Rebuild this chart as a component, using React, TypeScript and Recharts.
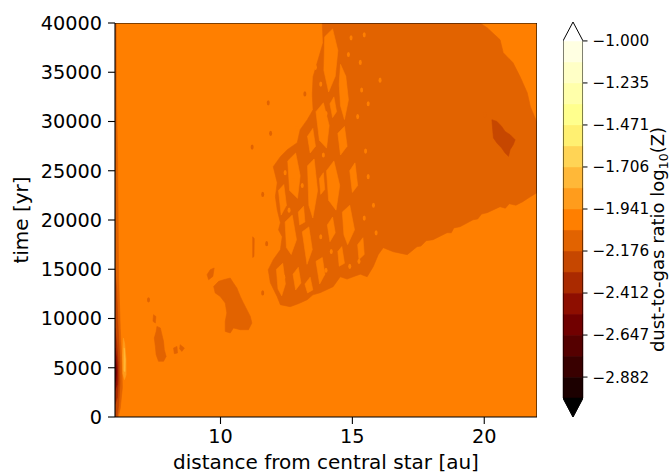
import React from 'react';
import { ScatterChart, Scatter, XAxis, YAxis, ReferenceArea } from 'recharts';

const FONT = '"DejaVu Sans", sans-serif';
const ORANGE = '#FF7F00';
const DARK = '#E26300';
const DARKER = '#C64700';

// axes
const xTicks = [10, 15, 20];
const yTicks = [0, 5000, 10000, 15000, 20000, 25000, 30000, 35000, 40000];

// contour levels of log10(Z) (bottom to top) and the band colours between them
const levels = [
  -3.0, -2.8824, -2.7647, -2.6471, -2.5294, -2.4118, -2.2941, -2.1765, -2.0588,
  -1.9412, -1.8235, -1.7059, -1.5882, -1.4706, -1.3529, -1.2353, -1.1176, -1.0,
];
const bandColors = [
  '#1C0000', '#390000', '#550000', '#710000', '#8E0E00', '#AA2A00', '#C64700', '#E26300',
  '#FF7F00', '#FF9C1C', '#FFB838', '#FFD455', '#FFF071', '#FFFF8D', '#FFFFAA', '#FFFFC6', '#FFFFE2',
];
const cbarTicks = [-2.8824, -2.6471, -2.4118, -2.1765, -1.9412, -1.7059, -1.4706, -1.2353, -1.0];

// whole field sits in the -2.059 .. -1.941 band
const field = [
  { x: 6, y: 0 }, { x: 6, y: 40000 }, { x: 22, y: 40000 }, { x: 22, y: 0 },
];

// thin darker column at the inner edge
const edgeStrip = [
  { x: 6, y: 40000 }, { x: 6.05, y: 40000 }, { x: 6.06, y: 32000 }, { x: 6.1, y: 26000 },
  { x: 6.12, y: 20000 }, { x: 6.14, y: 14000 }, { x: 6.2, y: 9000 }, { x: 6.26, y: 5500 },
  { x: 6.28, y: 3000 }, { x: 6.2, y: 900 }, { x: 6.12, y: 0 }, { x: 6, y: 0 },
];
const edgeInner = [
  { x: 6, y: 15000 }, { x: 6.06, y: 13000 }, { x: 6.12, y: 9000 }, { x: 6.18, y: 6000 },
  { x: 6.19, y: 3500 }, { x: 6.14, y: 1200 }, { x: 6.08, y: 0 }, { x: 6, y: 0 },
];
const edgeCoreOuter = [
  { x: 6, y: 9000 }, { x: 6.07, y: 7300 }, { x: 6.12, y: 5500 }, { x: 6.13, y: 3800 },
  { x: 6.09, y: 2000 }, { x: 6, y: 1300 },
];
const edgeCore = [
  { x: 6, y: 7000 }, { x: 6.06, y: 6000 }, { x: 6.09, y: 4800 }, { x: 6.08, y: 3300 }, { x: 6, y: 2700 },
];
const edgeCoreDeep = [
  { x: 6, y: 5900 }, { x: 6.04, y: 5200 }, { x: 6.06, y: 4500 }, { x: 6.03, y: 3700 }, { x: 6, y: 3500 },
];
const paleStreak = [
  { x: 6.32, y: 8000 }, { x: 6.37, y: 7400 }, { x: 6.42, y: 5800 }, { x: 6.42, y: 4300 },
  { x: 6.36, y: 3800 }, { x: 6.3, y: 4400 }, { x: 6.29, y: 6300 },
];
const paleCore = [
  { x: 6.35, y: 7000 }, { x: 6.39, y: 5800 }, { x: 6.38, y: 4600 }, { x: 6.34, y: 4700 },
];

// big dust-rich region in the outer disc (outline incl. the patchy inner part)
const mainRegion = [
  { x: 13.86, y: 40000 }, { x: 19.84, y: 40000 }, { x: 20.11, y: 39520 }, { x: 20.6, y: 38300 },
  { x: 20.72, y: 36980 }, { x: 21.09, y: 35970 }, { x: 21.36, y: 34550 }, { x: 21.63, y: 32920 },
  { x: 21.75, y: 31500 }, { x: 22, y: 29880 }, { x: 22, y: 22770 }, { x: 21.75, y: 22370 },
  { x: 21.46, y: 21860 }, { x: 21.2, y: 21500 }, { x: 20.95, y: 21650 }, { x: 20.8, y: 21200 },
  { x: 20.6, y: 21350 }, { x: 20.11, y: 20740 }, { x: 19.9, y: 20600 }, { x: 19.75, y: 20100 },
  { x: 19.58, y: 20030 }, { x: 19.08, y: 19320 }, { x: 18.85, y: 19200 }, { x: 18.75, y: 18700 },
  { x: 18.59, y: 18710 }, { x: 18.06, y: 18000 }, { x: 17.8, y: 17900 }, { x: 17.6, y: 17350 },
  { x: 17.45, y: 17290 }, { x: 17.08, y: 16480 }, { x: 16.55, y: 16780 }, { x: 16.17, y: 17190 },
  { x: 15.98, y: 16480 }, { x: 15.79, y: 15260 }, { x: 15.56, y: 14240 }, { x: 15.3, y: 14500 },
  { x: 15.03, y: 14240 }, { x: 14.8, y: 14000 }, { x: 14.54, y: 14240 }, { x: 14.27, y: 13230 },
  { x: 13.78, y: 12620 }, { x: 13.5, y: 12400 }, { x: 13.29, y: 11910 }, { x: 12.95, y: 11500 },
  { x: 12.64, y: 11200 }, { x: 12.27, y: 11400 }, { x: 12.15, y: 12210 }, { x: 11.89, y: 13630 },
  { x: 11.81, y: 14950 }, { x: 12.0, y: 15970 }, { x: 12.27, y: 16980 }, { x: 12.34, y: 18300 },
  { x: 12.2, y: 19000 }, { x: 12.27, y: 19730 }, { x: 12.15, y: 21050 }, { x: 12.08, y: 22370 },
  { x: 12.15, y: 23790 }, { x: 12.0, y: 25410 }, { x: 12.27, y: 26430 }, { x: 12.53, y: 27140 },
  { x: 12.91, y: 27850 }, { x: 13.02, y: 29170 }, { x: 13.29, y: 30180 }, { x: 13.51, y: 31200 },
  { x: 13.48, y: 32720 }, { x: 13.51, y: 34550 }, { x: 13.7, y: 36270 }, { x: 13.89, y: 38000 },
];

// gaps in the patchy part
const holes = [
  [{ x: 13.95, y: 38600 }, { x: 14.25, y: 39400 }, { x: 14.45, y: 37200 }, { x: 14.35, y: 34600 }, { x: 14.1, y: 33000 }, { x: 13.92, y: 35200 }],
  [{ x: 14.55, y: 35800 }, { x: 14.75, y: 34600 }, { x: 14.85, y: 32200 }, { x: 14.7, y: 30200 }, { x: 14.55, y: 31600 }, { x: 14.5, y: 33800 }],
  [{ x: 13.62, y: 31000 }, { x: 13.9, y: 31900 }, { x: 14.12, y: 29600 }, { x: 14.02, y: 27300 }, { x: 13.75, y: 28100 }],
  [{ x: 12.55, y: 26000 }, { x: 12.85, y: 26800 }, { x: 13.02, y: 24500 }, { x: 12.92, y: 22200 }, { x: 12.62, y: 23000 }],
  [{ x: 13.3, y: 25500 }, { x: 13.55, y: 26200 }, { x: 13.68, y: 23000 }, { x: 13.5, y: 20200 }, { x: 13.35, y: 21500 }],
  [{ x: 14.02, y: 25000 }, { x: 14.3, y: 26000 }, { x: 14.52, y: 23500 }, { x: 14.38, y: 21000 }, { x: 14.1, y: 22000 }],
  [{ x: 12.45, y: 19800 }, { x: 12.72, y: 20500 }, { x: 12.88, y: 18000 }, { x: 12.68, y: 16500 }, { x: 12.5, y: 17200 }],
  [{ x: 13.1, y: 18800 }, { x: 13.35, y: 19300 }, { x: 13.48, y: 17000 }, { x: 13.28, y: 15500 }],
  [{ x: 14.62, y: 20800 }, { x: 14.9, y: 21500 }, { x: 15.08, y: 19000 }, { x: 14.82, y: 17500 }, { x: 14.68, y: 18500 }],
  [{ x: 12.12, y: 15000 }, { x: 12.36, y: 15600 }, { x: 12.46, y: 13500 }, { x: 12.32, y: 12300 }, { x: 12.18, y: 13000 }],
  [{ x: 13.62, y: 15800 }, { x: 13.86, y: 16200 }, { x: 13.96, y: 14500 }, { x: 13.76, y: 13500 }],
  [{ x: 14.05, y: 19500 }, { x: 14.25, y: 20300 }, { x: 14.35, y: 18700 }, { x: 14.15, y: 17800 }],
  [{ x: 12.75, y: 14500 }, { x: 12.95, y: 15200 }, { x: 13.05, y: 13600 }, { x: 12.85, y: 12900 }],
  [{ x: 14.45, y: 28800 }, { x: 14.7, y: 29500 }, { x: 14.8, y: 27500 }, { x: 14.55, y: 26600 }],
  [{ x: 13.3, y: 28500 }, { x: 13.5, y: 29300 }, { x: 13.6, y: 27500 }, { x: 13.4, y: 26800 }],
  [{ x: 12.2, y: 23000 }, { x: 12.4, y: 23600 }, { x: 12.5, y: 21500 }, { x: 12.3, y: 20500 }],
  [{ x: 12.95, y: 20800 }, { x: 13.15, y: 21400 }, { x: 13.2, y: 19800 }, { x: 13.0, y: 19500 }],
  [{ x: 14.9, y: 25000 }, { x: 15.1, y: 25800 }, { x: 15.2, y: 23500 }, { x: 15.0, y: 22800 }],
  [{ x: 13.2, y: 13500 }, { x: 13.4, y: 14200 }, { x: 13.5, y: 12900 }, { x: 13.3, y: 12600 }],
  [{ x: 14.45, y: 16800 }, { x: 14.6, y: 17300 }, { x: 14.7, y: 15600 }, { x: 14.5, y: 15300 }],
  [{ x: 15.2, y: 17500 }, { x: 15.4, y: 18200 }, { x: 15.45, y: 16500 }, { x: 15.25, y: 16000 }],
  [{ x: 13.75, y: 24200 }, { x: 13.9, y: 24800 }, { x: 13.95, y: 23100 }, { x: 13.8, y: 22600 }],
  [{ x: 14.15, y: 31800 }, { x: 14.3, y: 32500 }, { x: 14.4, y: 31000 }, { x: 14.25, y: 30400 }],
];

// darkest spot near 21 au
const hotSpot = [
  { x: 20.29, y: 30180 }, { x: 20.48, y: 30010 }, { x: 20.66, y: 29500 }, { x: 20.79, y: 28990 },
  { x: 20.98, y: 28660 }, { x: 21.17, y: 28150 }, { x: 21.1, y: 27640 }, { x: 20.98, y: 27140 },
  { x: 20.92, y: 26460 }, { x: 20.79, y: 26800 }, { x: 20.66, y: 27310 }, { x: 20.48, y: 27820 },
  { x: 20.35, y: 28320 }, { x: 20.32, y: 29170 },
];

// islands further in
const islandB = [
  { x: 10.12, y: 13940 }, { x: 10.37, y: 14110 }, { x: 10.49, y: 13600 }, { x: 10.62, y: 13100 },
  { x: 10.75, y: 12240 }, { x: 10.87, y: 11570 }, { x: 11.0, y: 10890 }, { x: 11.13, y: 10210 },
  { x: 11.19, y: 9540 }, { x: 11.06, y: 8860 }, { x: 10.75, y: 8860 }, { x: 10.49, y: 9040 },
  { x: 10.37, y: 8530 }, { x: 10.18, y: 8690 }, { x: 10.18, y: 9710 }, { x: 10.24, y: 10560 },
  { x: 10.18, y: 11570 }, { x: 9.99, y: 12240 }, { x: 9.8, y: 12590 }, { x: 9.74, y: 13260 },
  { x: 9.93, y: 13770 },
];
const islandBPatch = [
  { x: 9.61, y: 14950 }, { x: 9.76, y: 15130 }, { x: 9.71, y: 14270 }, { x: 9.55, y: 13940 }, { x: 9.49, y: 14450 },
];
const islandC = [
  { x: 7.59, y: 9200 }, { x: 7.72, y: 9040 }, { x: 7.78, y: 8360 }, { x: 7.84, y: 7680 },
  { x: 7.87, y: 6830 }, { x: 7.94, y: 6150 }, { x: 7.84, y: 5650 }, { x: 7.65, y: 5650 },
  { x: 7.56, y: 6330 }, { x: 7.53, y: 7170 }, { x: 7.49, y: 8020 }, { x: 7.56, y: 8690 },
];
const islandCBits = [
  [{ x: 8.22, y: 7000 }, { x: 8.35, y: 7170 }, { x: 8.37, y: 6500 }, { x: 8.25, y: 6430 }],
  [{ x: 8.47, y: 7340 }, { x: 8.63, y: 7000 }, { x: 8.54, y: 6660 }, { x: 8.45, y: 6900 }],
  [{ x: 7.46, y: 10390 }, { x: 7.55, y: 10210 }, { x: 7.53, y: 9540 }, { x: 7.44, y: 9710 }],
  [{ x: 11.22, y: 18300 }, { x: 11.28, y: 18100 }, { x: 11.27, y: 16300 }, { x: 11.22, y: 16200 }],
];

// small specks
const lightSpecks = [
  { x: 15.2, y: 30500 }, { x: 15.3, y: 36000 }, { x: 14.95, y: 38500 }, { x: 15.35, y: 33200 },
  { x: 15.5, y: 27000 }, { x: 15.6, y: 24400 }, { x: 15.8, y: 21500 }, { x: 12.6, y: 21000 },
  { x: 13.8, y: 18300 }, { x: 15.25, y: 15800 }, { x: 14.9, y: 15300 }, { x: 12.9, y: 29300 },
  { x: 13.8, y: 33800 }, { x: 13.1, y: 23500 }, { x: 14.0, y: 30800 }, { x: 12.45, y: 24800 },
  { x: 15.9, y: 18700 }, { x: 16.05, y: 34200 }, { x: 15.45, y: 38800 }, { x: 14.2, y: 16800 },
  { x: 13.6, y: 35500 }, { x: 14.85, y: 36800 }, { x: 15.6, y: 31800 }, { x: 15.45, y: 20200 },
  { x: 12.75, y: 24000 }, { x: 13.9, y: 26600 }, { x: 12.4, y: 14200 }, { x: 14.0, y: 14900 },
];
const darkSpecks = [
  { x: 11.81, y: 31900 }, { x: 11.2, y: 27400 }, { x: 7.27, y: 11900 }, { x: 10.25, y: 11900 },
  { x: 11.6, y: 22600 }, { x: 11.9, y: 28800 }, { x: 20.03, y: 30700 }, { x: 11.75, y: 17600 },
  { x: 11.6, y: 12600 }, { x: 13.2, y: 32800 },
];

// colourbar end caps in (0..1, level) space
const capTop = [{ x: 0, y: -1.0 }, { x: 0.5, y: -0.894 }, { x: 1, y: -1.0 }];
const capBottom = [{ x: 0, y: -3.0 }, { x: 0.5, y: -3.106 }, { x: 1, y: -3.0 }];
const cbarOutline = [
  { x: 0, y: -3.0 }, { x: 0, y: -1.0 }, { x: 0.5, y: -0.894 }, { x: 1, y: -1.0 },
  { x: 1, y: -3.0 }, { x: 0.5, y: -3.106 },
];

const noPoint = () => <g />;

const polygonLine = (fill: string, stroke = fill, strokeWidth = 0.6) => (props: any) => (
  <polygon
    points={(props.points || []).map((p: any) => `${p.x},${p.y}`).join(' ')}
    fill={fill}
    stroke={stroke}
    strokeWidth={strokeWidth}
  />
);

const region = (key: string, data: { x: number; y: number }[], color: string) => (
  <Scatter
    key={key}
    data={data}
    line={polygonLine(color)}
    lineType="joint"
    shape={noPoint}
    isAnimationActive={false}
  />
);

const speck = (color: string) => (p: any) => (
  <ellipse cx={p.cx} cy={p.cy} rx={1.5} ry={2.6} fill={color} />
);

const fmtLevel = (v: number) => (v < 0 ? '\u2212' : '') + Math.abs(v).toFixed(3);

const CbarLabel = (props: any) => {
  const vb = props.viewBox || { x: 583, y: 22, width: 88, height: 395 };
  const bx = vb.x + vb.width - 7;
  const cy = vb.y + vb.height / 2 + 20;
  return (
    <text
      transform={`translate(${bx},${cy}) rotate(-90)`}
      textAnchor="middle"
      fontFamily={FONT}
      fontSize={18}
      fill="#000"
    >
      dust-to-gas ratio log
      <tspan fontSize={12.5} dy={4}>10</tspan>
      <tspan dy={-4}>(Z)</tspan>
    </text>
  );
};

export default function App() {
  const tickStyle = { fontFamily: FONT, fontSize: 19.3, fill: '#000' };
  return (
    <div style={{ position: 'absolute', left: 0, top: 0, width: 671, height: 474, background: '#fff' }}>
      <div style={{ position: 'absolute', left: 0, top: 0 }}>
        <ScatterChart width={671} height={474} margin={{ top: 23, right: 134, bottom: 0, left: 0 }}>
          <XAxis
            type="number"
            dataKey="x"
            domain={[6, 22]}
            ticks={xTicks}
            allowDataOverflow
            height={57}
            tick={tickStyle}
            tickSize={7}
            tickMargin={5}
            stroke="#000"
            axisLine={{ stroke: '#000', strokeWidth: 1.1 }}
            tickLine={{ stroke: '#000', strokeWidth: 1.1 }}
            label={{
              value: 'distance from central star [au]',
              position: 'insideBottom',
              offset: 5,
              style: { fontFamily: FONT, fontSize: 20, fill: '#000' },
            }}
          />
          <YAxis
            type="number"
            dataKey="y"
            domain={[0, 40000]}
            ticks={yTicks}
            allowDataOverflow
            width={115}
            tick={tickStyle}
            tickSize={7}
            tickMargin={6}
            stroke="#000"
            axisLine={{ stroke: '#000', strokeWidth: 1.1 }}
            tickLine={{ stroke: '#000', strokeWidth: 1.1 }}
            label={{
              value: 'time [yr]',
              angle: -90,
              position: 'insideLeft',
              offset: 21,
              style: { fontFamily: FONT, fontSize: 20, fill: '#000', textAnchor: 'middle' },
            }}
          />
          {region('field', field, ORANGE)}
          {region('edgeStrip', edgeStrip, DARK)}
          {region('edgeInner', edgeInner, DARKER)}
          {region('edgeCoreOuter', edgeCoreOuter, '#AA2A00')}
          {region('edgeCore', edgeCore, '#8E0E00')}
          {region('edgeCoreDeep', edgeCoreDeep, '#710000')}
          {region('paleStreak', paleStreak, '#FF9C1C')}
          {region('paleCore', paleCore, '#FFB838')}
          {region('main', mainRegion, DARK)}
          {holes.map((h, i) => region(`hole${i}`, h, ORANGE))}
          {region('hotSpot', hotSpot, DARKER)}
          {region('islandB', islandB, DARK)}
          {region('islandBPatch', islandBPatch, DARK)}
          {region('islandC', islandC, DARK)}
          {islandCBits.map((b, i) => region(`bit${i}`, b, DARK))}
          <Scatter data={lightSpecks} shape={speck(ORANGE)} isAnimationActive={false} />
          <Scatter data={darkSpecks} shape={speck(DARK)} isAnimationActive={false} />
          {/* plot frame (all four spines) */}
          <Scatter
            data={field}
            line={polygonLine('none', '#000', 1.1)}
            lineType="joint"
            shape={noPoint}
            isAnimationActive={false}
          />
        </ScatterChart>
      </div>
      <div style={{ position: 'absolute', left: 0, top: 0 }}>
        <ScatterChart width={671} height={474} margin={{ top: 22, right: 0, bottom: 57, left: 563 }}>
          <XAxis type="number" dataKey="x" domain={[0, 1]} hide allowDataOverflow />
          <YAxis
            type="number"
            dataKey="y"
            orientation="right"
            domain={[-3.106, -0.894]}
            ticks={cbarTicks}
            tickFormatter={fmtLevel}
            allowDataOverflow
            width={88}
            axisLine={false}
            tickSize={4.5}
            tickMargin={5}
            tick={{ fontFamily: FONT, fontSize: 15.3, fill: '#000' }}
            tickLine={{ stroke: '#000', strokeWidth: 1 }}
            label={{ content: CbarLabel }}
          />
          {levels.slice(0, -1).map((lo, i) => (
            <ReferenceArea
              key={`band${i}`}
              x1={0}
              x2={1}
              y1={lo}
              y2={levels[i + 1]}
              fill={bandColors[i]}
              fillOpacity={1}
              stroke={bandColors[i]}
              strokeWidth={0.5}
              ifOverflow="visible"
            />
          ))}
          {region('capTop', capTop, '#FFFFFF')}
          {region('capBottom', capBottom, '#000000')}
          <Scatter
            data={cbarOutline}
            line={polygonLine('none', '#000', 1)}
            lineType="joint"
            shape={noPoint}
            isAnimationActive={false}
          />
        </ScatterChart>
      </div>
    </div>
  );
}
